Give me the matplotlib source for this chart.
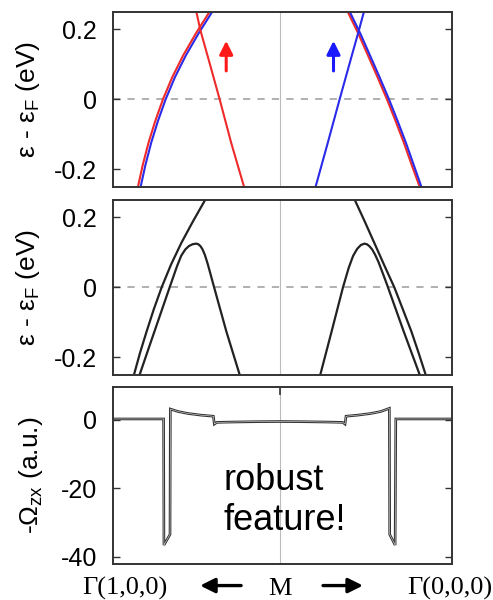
import matplotlib
matplotlib.use("Agg")
import matplotlib.pyplot as plt

plt.rcParams['font.family'] = ['Liberation Sans', 'DejaVu Sans']
plt.rcParams['axes.unicode_minus'] = False

# k-path position of M (0 = Gamma(1,0,0), 1 = Gamma(0,0,0))
k_M = 0.491

# top panel: spin-resolved bands (eV)
red_outer_x = [0.0724, 0.0866, 0.1033, 0.1233, 0.1462, 0.1734, 0.2058, 0.2433, 0.2841]
red_outer_y = [-0.2495, -0.1871, -0.1248, -0.0624, 0.0, 0.0626, 0.1252, 0.1879, 0.2505]
blue_outer_x = [0.0803, 0.0945, 0.1112, 0.1312, 0.1541, 0.1813, 0.2137, 0.2512, 0.2920]
blue_outer_y = [-0.2495, -0.1871, -0.1248, -0.0624, 0.0, 0.0626, 0.1252, 0.1879, 0.2505]
red_inner_x = [0.2447, 0.2565, 0.2841, 0.3136, 0.3481, 0.3855]
red_inner_y = [0.2505, 0.1981, 0.1029, 0.0, -0.1257, -0.2495]

blue_inner_x = [0.5972, 0.6327, 0.6681, 0.6977, 0.7253, 0.7400]
blue_inner_y = [-0.2495, -0.1257, 0.0, 0.1029, 0.1981, 0.2505]
blue_outer2_x = [0.6977, 0.7292, 0.7578, 0.7863, 0.8139, 0.8395, 0.8641, 0.8868, 0.9094]
blue_outer2_y = [0.2505, 0.1879, 0.1252, 0.0626, 0.0, -0.0624, -0.1248, -0.1871, -0.2495]
red_outer2_x = [0.6917, 0.7232, 0.7518, 0.7803, 0.8079, 0.8335, 0.8581, 0.8808, 0.9044]
red_outer2_y = [0.2505, 0.1879, 0.1252, 0.0626, 0.0, -0.0624, -0.1248, -0.1871, -0.2495]

# middle panel: bands with SOC (eV)
soc_outer_x = [0.0606, 0.0783, 0.0980, 0.1187, 0.1423, 0.1699, 0.2004, 0.2349, 0.2713]
soc_outer_y = [-0.2495, -0.1876, -0.1257, -0.0638, 0.0, 0.0648, 0.1267, 0.1886, 0.2505]
soc_inner_x = [0.0773, 0.1059, 0.1364, 0.1659, 0.1876, 0.2000, 0.2120, 0.2230, 0.2340,
               0.2447, 0.2510, 0.2570, 0.2630, 0.2700, 0.2780, 0.2860, 0.2940,
               0.3333, 0.3727]
soc_inner_y = [-0.2495, -0.1686, -0.0829, 0.0, 0.0600, 0.0900, 0.1080, 0.1180, 0.1232,
               0.1248, 0.1228, 0.1175, 0.1085, 0.0925, 0.0680, 0.0400, 0.0115,
               -0.1257, -0.2495]
soc_inner2_x = [0.6110, 0.6445, 0.6780, 0.6950, 0.7080, 0.7200, 0.7310, 0.7420,
                0.7490, 0.7560, 0.7640, 0.7730, 0.7830, 0.7940, 0.8030, 0.8109,
                0.8572, 0.9045]
soc_inner2_y = [-0.2495, -0.1257, 0.0, 0.0560, 0.0900, 0.1100, 0.1210, 0.1248,
                0.1228, 0.1175, 0.1085, 0.0930, 0.0720, 0.0440, 0.0210, 0.0,
                -0.1257, -0.2495]
soc_outer2_x = [0.7125, 0.7420, 0.7706, 0.7991, 0.8296, 0.8552, 0.8799, 0.9015, 0.9222]
soc_outer2_y = [0.2505, 0.1886, 0.1267, 0.0648, 0.0, -0.0638, -0.1257, -0.1876, -0.2495]

# bottom panel: Berry curvature -Omega_zx (a.u.)
berry_x = [0.0, 0.148, 0.149, 0.167, 0.168, 0.19, 0.22, 0.26, 0.295, 0.298, 0.305,
           0.35, 0.42, 0.491, 0.56, 0.63, 0.677, 0.684, 0.687, 0.72, 0.76, 0.79,
           0.815, 0.816, 0.832, 0.834, 1.0]
berry_y = [0.3, 0.3, -36.6, -33.5, 3.2, 2.5, 1.9, 1.4, 1.1, -1.2, -0.7,
           -0.6, -0.5, -0.45, -0.5, -0.6, -0.7, -1.2, 1.1, 1.4, 1.9, 2.5,
           3.4, -33.5, -36.6, 0.3, 0.3]

band_ticks = [-0.2, 0, 0.2]
band_ticklabels = ['-0.2', '0', '0.2']
berry_ticks = [-40, -20, 0]
k_labels = ['\u0393(1,0,0)', 'M', '\u0393(0,0,0)']
k_label_pos = [0.034, k_M, 0.994]

fig = plt.figure(figsize=(4.93, 6.0), dpi=100)
left, width = 0.2302, 0.6866
ax1 = fig.add_axes([left, 0.6887, width, 0.2917])
ax2 = fig.add_axes([left, 0.3753, width, 0.2917])
ax3 = fig.add_axes([left, 0.0608, width, 0.2939])

spine_c = '#333333'
for ax in (ax1, ax2, ax3):
    ax.set_xlim(0, 1)
    for s in ax.spines.values():
        s.set_color(spine_c)
        s.set_linewidth(1.4)
    ax.axvline(k_M, color='#bbbbbb', lw=0.8, zorder=0)
    ax.tick_params(axis='y', direction='in', length=5, width=1, color=spine_c,
                   right=True, labelsize=18, pad=12)
    ax.tick_params(axis='x', bottom=False, top=False, labelbottom=False)

for ax in (ax1, ax2):
    ax.set_ylim(-0.25, 0.25)
    ax.set_yticks(band_ticks)
    ax.set_yticklabels(band_ticklabels)
    ax.axhline(0, color='#aaaaaa', lw=1.3, linestyle=(0, (4, 4)), zorder=0)
    ax.set_ylabel('\u03b5 - \u03b5$_\\mathregular{F}$ (eV)', fontsize=19)
    ax.yaxis.set_label_coords(-0.211, 0.5)

# top panel
lw = 1.5
ax1.plot(blue_outer_x, blue_outer_y, color='#2a2ae8', lw=lw)
ax1.plot(red_outer_x, red_outer_y, color='#ee2a2a', lw=lw)
ax1.plot(red_inner_x, red_inner_y, color='#ee2a2a', lw=lw)
ax1.plot(red_outer2_x, red_outer2_y, color='#ee2a2a', lw=lw)
ax1.plot(blue_outer2_x, blue_outer2_y, color='#2a2ae8', lw=lw)
ax1.plot(blue_inner_x, blue_inner_y, color='#2a2ae8', lw=lw)
ax1.annotate('', xy=(0.333, 0.167), xytext=(0.333, 0.081),
             arrowprops=dict(arrowstyle='-|>', color='#ff1a1a', lw=2.2,
                             mutation_scale=20, shrinkA=0, shrinkB=0))
ax1.annotate('', xy=(0.650, 0.167), xytext=(0.650, 0.081),
             arrowprops=dict(arrowstyle='-|>', color='#1a1aff', lw=2.2,
                             mutation_scale=20, shrinkA=0, shrinkB=0))

# middle panel
for xs, ys in [(soc_outer_x, soc_outer_y), (soc_inner_x, soc_inner_y),
               (soc_inner2_x, soc_inner2_y), (soc_outer2_x, soc_outer2_y)]:
    ax2.plot(xs, ys, color='#222222', lw=1.6)

# bottom panel
ax3.set_ylim(-42, 9.6)
ax3.set_yticks(berry_ticks)
ax3.plot(berry_x, berry_y, color='#333333', lw=1.9, solid_joinstyle='miter')
ax3.plot(berry_x, berry_y, color='white', lw=0.35, solid_joinstyle='miter')
ax3.set_ylabel('-\u03a9$_\\mathregular{zx}$ (a.u.)', fontsize=19)
ax3.yaxis.set_label_coords(-0.202, 0.5)
ax3.set_xticks([k_M])
ax3.tick_params(axis='x', top=True, direction='in', length=6, width=1.2, color=spine_c)
ax3.text(0.326, -32.2, 'robust\nfeature!', fontsize=26, ha='left', va='baseline')

xt = ax3.get_xaxis_transform()
for lab, pos in zip(k_labels, k_label_pos):
    ax3.text(pos, -0.178, lab, transform=xt, ha='center', va='baseline',
             fontsize=19, family='Liberation Serif', clip_on=False)
for tail, tip in [(0.377, 0.256), (0.619, 0.737)]:
    ax3.annotate('', xy=(tip, -0.125), xytext=(tail, -0.125),
                 xycoords=xt, textcoords=xt, annotation_clip=False,
                 arrowprops=dict(arrowstyle='-|>', color='black', lw=2.4,
                                 mutation_scale=22, shrinkA=0, shrinkB=0))

fig.savefig('out.png', dpi=100)
